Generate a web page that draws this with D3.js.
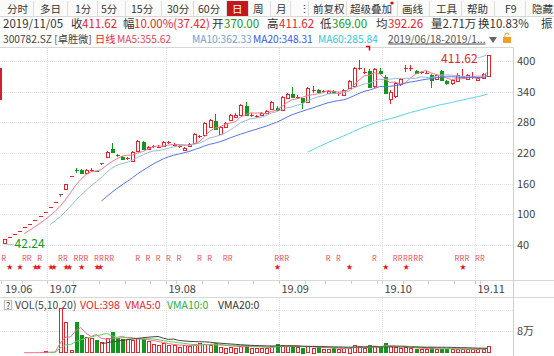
<!DOCTYPE html>
<html>
<head>
<meta charset="utf-8">
<script src="https://cdn.jsdelivr.net/npm/d3@7"></script>
<style>
  body { margin: 0; background: #fff; overflow: hidden; }
  svg { display: block; font-family: "Noto Sans CJK SC", "Noto Sans", sans-serif; }
</style>
</head>
<body>
<svg id="chart" width="554" height="356"></svg>
<script>
// trading days, one list per month
const months = ["2019-06", "2019-07", "2019-08", "2019-09", "2019-10", "2019-11"];
const monthLabels = ["19.06", "19.07", "19.08", "19.09", "19.10", "19.11"];
const monthDays = [
  [18, 19, 20, 21, 24, 25, 26, 27, 28],
  [1, 2, 3, 4, 5, 8, 9, 10, 11, 12, 15, 16, 17, 18, 19, 22, 23, 24, 25, 26, 29, 30, 31],
  [1, 2, 5, 6, 7, 8, 9, 12, 13, 14, 15, 16, 19, 20, 21, 22, 23, 26, 27, 28, 29, 30],
  [2, 3, 4, 5, 6, 9, 10, 11, 12, 16, 17, 18, 19, 20, 23, 24, 25, 26, 27, 30],
  [8, 9, 10, 11, 14, 15, 16, 17, 18, 21, 22, 23, 24, 25, 28, 29, 30, 31],
  [1, 4, 5]
];

// daily prices (forward adjusted)
const open = [42.35, 56, 62, 68, 74.5, 81.5, 89, 97, 105, 114, 124, 140, 150, 175, 187, 187, 182, 186, 184, 201,
  213, 228, 217, 213, 210, 205, 224, 242, 228, 232, 231, 234, 240, 235, 232, 226, 233, 240, 252, 256,
  271, 282, 258, 271, 285, 292, 294, 311, 294, 291, 295, 298, 307, 309, 304, 328, 335, 329, 327, 320,
  342, 343, 340, 338, 342, 336, 333, 347, 350, 385, 378, 381, 350, 381, 369, 327, 330, 355, 386, 386,
  381, 377, 377, 373, 364, 381, 360, 356, 362, 370, 364, 366, 364, 366, 370];
const high = [50.82, 56, 62, 68, 74.5, 81.5, 89, 97, 105, 114, 124, 140, 160, 175, 191, 188, 188, 190, 185, 201,
  223, 240, 219, 214, 213, 224, 246, 243, 233, 236, 235, 243, 244, 239, 235, 231, 239, 259, 256, 281,
  287, 296, 273, 280, 296, 298, 316, 320, 298, 295, 300, 304, 322, 311, 332, 337, 350, 333, 328, 349,
  352, 345, 344, 343, 344, 340, 345, 362, 388, 401, 386, 384, 386, 386, 372, 343, 358, 366, 393, 392,
  383, 380, 380, 375, 374, 383, 362, 364, 376, 384, 375, 378, 369, 376, 411.62];
const low = [42.24, 56, 62, 68, 74.5, 81.5, 89, 97, 105, 114, 124, 133, 148, 175, 180, 179, 180, 183, 182, 197,
  211, 220, 212, 207, 207, 203, 222, 227, 226, 229, 229, 232, 238, 233, 229, 224, 231, 238, 249, 254,
  268, 265, 256, 269, 283, 290, 292, 292, 291, 288, 293, 296, 305, 303, 302, 326, 328, 326, 307, 318,
  338, 337, 337, 336, 335, 332, 331, 345, 348, 382, 375, 348, 348, 376, 335, 316, 328, 352, 378, 380,
  375, 374, 375, 347, 362, 362, 354, 354, 360, 366, 362, 364, 362, 364, 369];
const close = [50.82, 56, 62, 68, 74.5, 81.5, 89, 97, 105, 114, 124, 140, 159, 175, 186, 181, 187, 187, 183, 201,
  222, 222, 215, 209, 210.5, 222, 244, 229, 231, 233, 232, 241, 241, 236, 233, 229, 237, 258, 253, 279,
  285, 267, 271, 278, 294, 295, 314, 294, 295, 292, 298, 302, 320, 305, 330, 335, 330, 330, 320, 347,
  343, 339, 341, 341, 338, 337, 343, 360, 386, 386, 379, 350, 384, 378, 337, 340, 356, 364, 387, 387,
  377, 378, 377.5, 364, 372, 364, 356, 362, 373, 371, 372, 368, 367, 374.2, 411.62];
// volume, 万 shares
const volume = [0.25, 0.1, 0.1, 0.1, 0.12, 0.12, 0.15, 0.2, 0.6, 0.3, 0.5, 16.2, 11.2, 1.0, 11.3, 6.5, 5.8, 5.3, 4.6, 4.0,
  5.5, 7.6, 5.3, 5.1, 5.0, 4.7, 5.5, 5.0, 4.2, 3.4, 3.0, 3.5, 3.0, 2.8, 2.1, 2.8, 2.6, 3.2, 3.5, 3.4,
  2.8, 3.6, 2.3, 2.0, 2.3, 2.0, 2.6, 2.9, 2.0, 1.9, 1.8, 2.0, 2.4, 3.3, 2.8, 2.5, 2.6, 2.2, 2.0, 2.4,
  2.0, 2.1, 1.6, 1.5, 1.8, 1.6, 1.7, 2.0, 2.9, 2.5, 1.8, 2.9, 2.5, 2.1, 3.6, 2.6, 2.3, 1.9, 2.2, 1.7,
  1.5, 1.4, 1.3, 1.9, 1.5, 1.6, 1.4, 1.3, 1.6, 1.5, 1.4, 1.3, 1.5, 1.6, 2.71];

const priceTicks = [40, 100, 160, 220, 280, 340, 400];
const volTicks = [8];
const rDays = [0, 4, 5, 7, 11, 12, 14, 15, 16, 18, 19, 20, 21, 26, 28, 30, 32, 34, 38, 40, 43, 44,
  53, 54, 55, 63, 65, 72, 76, 77, 78, 79, 80, 81, 88, 89, 90, 92, 93];
const starDays = [1, 3, 6, 7, 9, 10, 12, 13, 15, 18, 19, 53, 67, 74, 78, 89];
const noteDays = [71];

const toolbarItems = [["分时", 7], ["多日", 40], ["1分", 75], ["5分", 101], ["15分", 131], ["30分", 167],
  ["60分", 198], ["日", 232], ["周", 253], ["月", 276], ["⋮", 299], ["前复权", 313], ["超级叠加", 350],
  ["画线", 402], ["工具", 436], ["帮助", 467], ["F9", 505], ["隐藏", 532]];
const toolbarSeps = [33, 67, 97, 125, 161, 193, 226, 248, 270, 290, 308, 346, 397, 429, 461, 494, 525];

const RED = "#e8232b", GREEN = "#13961d";
const svg = d3.select("#chart");

const parse = d3.timeParse("%Y-%m-%d");
const dates = months.flatMap((m, k) => monthDays[k].map(d => parse(m + "-" + String(d).padStart(2, "0"))));
const n = dates.length;

const x = d3.scaleBand().domain(d3.range(n)).range([1, 1 + n * 5.15]);
const cx = i => x(i) + x.bandwidth() / 2;
const y = d3.scaleLinear().domain([40, 400]).range([245, 61]);
const vy = d3.scaleLinear().domain([0, 8]).range([353, 331]);

const plotRight = 513;

// ---------- toolbar ----------
svg.append("rect").attr("x", 0).attr("y", 0).attr("width", 554).attr("height", 16).attr("fill", "#fbfbfb");
svg.append("line").attr("x1", 0).attr("x2", 554).attr("y1", 16.5).attr("y2", 16.5).attr("stroke", "#d9d9d9");
svg.append("rect").attr("x", 226).attr("y", 1).attr("width", 22).attr("height", 15).attr("fill", "#c4161c");
svg.selectAll(".sep").data(toolbarSeps).enter().append("line")
  .attr("x1", d => d + 0.5).attr("x2", d => d + 0.5).attr("y1", 1).attr("y2", 16)
  .attr("stroke", "#dcdcdc");
svg.selectAll(".tb").data(toolbarItems).enter().append("text")
  .attr("x", d => d[1]).attr("y", 12.5)
  .attr("font-size", 10.5)
  .attr("fill", d => d[0] === "日" ? "#fff" : "#333")
  .text(d => d[0]);
svg.append("circle").attr("cx", 392).attr("cy", 3).attr("r", 1.6).attr("fill", "#e00");

// ---------- info rows ----------
function txt(parts, yy, size) {
  parts.forEach(p => {
    svg.append("text").attr("x", p[1]).attr("y", yy).attr("font-size", size)
      .attr("fill", p[2]).text(p[0]);
  });
}
txt([["2019/11/05", 3, "#333"], ["收", 71, "#333"], ["411.62", 82, RED], ["幅", 123, "#333"],
  ["10.00%(37.42)", 134, RED], ["开", 212, "#333"], ["370.00", 224, GREEN], ["高", 267, "#333"],
  ["411.62", 279, RED], ["低", 320, "#333"], ["369.00", 332, GREEN], ["均", 376, "#333"],
  ["392.26", 388, RED], ["量2.71万", 431, "#333"], ["换10.83%", 478, "#333"], ["振", 541, "#333"]], 28, 11.5);
txt([["300782.SZ [卓胜微]", 3, "#444"], ["日线", 95, RED], ["MA5:355.62", 117, "#e8455a"],
  ["MA10:362.33", 192, "#6f9fd6"], ["MA20:348.31", 253, "#3658ee"], ["MA60:285.84", 318, "#30c6dc"]], 42.5, 10.2);
svg.append("text").attr("x", 388).attr("y", 42.5).attr("font-size", 10.2).attr("fill", "#555")
  .attr("text-decoration", "underline").text("2019/06/18-2019/1...");
svg.append("path").attr("d", "M489,37 h8 l-4,6 z").attr("fill", "#666");
svg.append("rect").attr("x", 503).attr("y", 37).attr("width", 8).attr("height", 6).attr("fill", "#f0a020");
svg.append("path").attr("d", "M505,37 v-2 a2,2 0 0 1 4,0").attr("fill", "none").attr("stroke", "#f0a020");

// ---------- frame and grid ----------
const frame = [[0, 47.5, plotRight, 47.5], [0, 280.5, 554, 280.5], [0, 297.5, 554, 297.5]];
frame.forEach(l => svg.append("line").attr("x1", l[0]).attr("y1", l[1]).attr("x2", l[2]).attr("y2", l[3])
  .attr("stroke", "#d8d8d8"));
svg.append("line").attr("x1", plotRight + 0.5).attr("x2", plotRight + 0.5).attr("y1", 47).attr("y2", 356)
  .attr("stroke", "#d0d0d0");

svg.selectAll(".hgrid").data(priceTicks).enter().append("line")
  .attr("x1", 0).attr("x2", plotRight).attr("y1", d => Math.round(y(d)) + 0.5).attr("y2", d => Math.round(y(d)) + 0.5)
  .attr("stroke", "#e3e3e3").attr("stroke-dasharray", "1,1");
svg.selectAll(".ylab").data(priceTicks).enter().append("text")
  .attr("x", 517).attr("y", d => y(d) + 4).attr("font-size", 11).attr("fill", "#444").text(d => d);

const monthStart = months.map((m, k) => d3.sum(monthDays.slice(0, k), a => a.length));
const monthX = monthStart.map(i => Math.round(x(i)) + 0.5);
monthX.slice(1).forEach(mx => {
  svg.append("line").attr("x1", mx).attr("x2", mx).attr("y1", 48).attr("y2", 280)
    .attr("stroke", "#e3e3e3").attr("stroke-dasharray", "1,1");
  svg.append("line").attr("x1", mx).attr("x2", mx).attr("y1", 298).attr("y2", 356)
    .attr("stroke", "#e3e3e3").attr("stroke-dasharray", "1,1");
});

// date axis: month labels and monday ticks
svg.selectAll(".mlab").data(monthLabels).enter().append("text")
  .attr("x", (d, k) => k === 0 ? 5 : monthX[k] + 2).attr("y", 293).attr("font-size", 11).attr("fill", "#444")
  .text(d => d);
dates.forEach((d, i) => {
  if (d.getDay() === 1 || monthStart.includes(i)) {
    const tx = Math.round(x(i)) + 0.5;
    svg.append("line").attr("x1", tx).attr("x2", tx).attr("y1", 281).attr("y2", 284).attr("stroke", "#ccc");
  }
});

// volume grid
[310, 331].forEach(v => svg.append("line").attr("x1", 0).attr("x2", plotRight).attr("y1", v + 0.5).attr("y2", v + 0.5)
  .attr("stroke", "#e3e3e3").attr("stroke-dasharray", "1,1"));
svg.selectAll(".vlab").data(volTicks).enter().append("text")
  .attr("x", 517).attr("y", d => vy(d) + 4).attr("font-size", 11).attr("fill", "#444").text(d => d + "万");

// ---------- candles ----------
const colorOf = i => {
  if (open[i] === close[i] && high[i] !== low[i] && high[i] === close[i]) return "#666";
  return close[i] >= open[i] ? RED : GREEN;
};
const bw = 3;
const candles = svg.append("g").attr("shape-rendering", "crispEdges");
d3.range(n).forEach(i => {
  const c = colorOf(i);
  const px = Math.round(cx(i));
  const top = y(Math.max(open[i], close[i])), bot = y(Math.min(open[i], close[i]));
  candles.append("line").attr("x1", px + 0.5).attr("x2", px + 0.5).attr("y1", y(high[i])).attr("y2", y(low[i]))
    .attr("stroke", c);
  if (bot - top < 1.5) {
    candles.append("line").attr("x1", px - 1.5).attr("x2", px + 2.5)
      .attr("y1", Math.round(top) + 0.5).attr("y2", Math.round(top) + 0.5).attr("stroke", c);
  } else {
    const up = close[i] >= open[i];
    candles.append("rect").attr("x", px - 1.5 + 0.5).attr("y", Math.round(top) + 0.5)
      .attr("width", bw).attr("height", Math.round(bot - top))
      .attr("fill", up ? "#fff" : c).attr("stroke", c);
  }
});

// moving averages
const ma = (arr, k) => arr.map((v, i) => i < k - 1 ? null : d3.mean(arr.slice(i - k + 1, i + 1)));
const lineP = d3.line().defined(d => d != null).x((d, i) => cx(i)).y(d => y(d));
[[5, "#f07888"], [10, "#9bbad8"], [20, "#5574ee"], [60, "#5ad2e8"]].forEach(([k, col]) => {
  svg.append("path").attr("d", lineP(ma(close, k))).attr("fill", "none").attr("stroke", col).attr("stroke-width", 1);
});

// high / low markers
const hi = d3.maxIndex(high), lo = d3.minIndex(low);
svg.append("line").attr("x1", cx(hi) - 10).attr("y1", y(high[hi]) + 3).attr("x2", cx(hi) - 1).attr("y2", y(high[hi]))
  .attr("stroke", "#9cc4e4");
svg.append("text").attr("x", cx(hi) - 10).attr("y", y(high[hi]) + 8).attr("text-anchor", "end")
  .attr("font-size", 12).attr("fill", RED).text(high[hi].toFixed(2));
svg.append("line").attr("x1", cx(lo) + 2).attr("y1", y(low[lo]) + 0.5).attr("x2", cx(lo) + 10).attr("y2", y(low[lo]) + 0.5)
  .attr("stroke", "#9cc4e4");
svg.append("text").attr("x", cx(lo) + 11).attr("y", y(low[lo]) + 4).attr("font-size", 12).attr("fill", GREEN)
  .text(low[lo].toFixed(2));

// note flag
noteDays.forEach(i => svg.append("path").attr("d", `M${Math.round(cx(i)) - 3},46.5 h3.5 v4`)
  .attr("fill", "none").attr("stroke", "#e00").attr("stroke-width", 1.5));
svg.append("rect").attr("x", 0).attr("y", 68).attr("width", 2).attr("height", 32).attr("fill", "#d0202a");

// signal rows: consecutive days are set as one run of glyphs
function runs(days) {
  const out = [];
  days.forEach(d => {
    const last = out[out.length - 1];
    if (last && d === last[last.length - 1] + 1) last.push(d); else out.push([d]);
  });
  return out;
}
function signalRow(days, glyph, yy, size, color) {
  svg.selectAll(null).data(runs(days)).enter().append("text")
    .attr("x", r => x(r[0]) + 0.3).attr("y", yy)
    .attr("font-size", size).attr("fill", color)
    .attr("textLength", r => r.length * x.step() - 0.6).attr("lengthAdjust", "spacing")
    .text(r => glyph.repeat(r.length));
}
signalRow(rDays, "R", 260.5, 7.5, "#f04a50");
signalRow(starDays, "★", 269, 6.5, "#e8141c");

// ---------- volume ----------
svg.append("rect").attr("x", 4.5).attr("y", 300.5).attr("width", 7).attr("height", 9).attr("fill", "none").attr("stroke", "#bbb");
svg.append("text").attr("x", 6).attr("y", 308.5).attr("font-size", 9).attr("fill", "#333").text("?");
txt([["VOL(5,10,20)", 15, "#444"], ["VOL:398", 80, RED], ["VMA5:0", 125, RED],
  ["VMA10:0", 167, "#2ab040"], ["VMA20:0", 218, "#333"]], 309, 10.5);

const vols = svg.append("g").attr("shape-rendering", "crispEdges");
d3.range(n).forEach(i => {
  const c = close[i] >= open[i] ? RED : GREEN;
  const up = close[i] >= open[i];
  const px = Math.round(cx(i));
  const h = Math.max(0.5, vy(0) - vy(volume[i]));
  vols.append("rect").attr("x", px - 1).attr("y", Math.round(vy(volume[i])) + 0.5)
    .attr("width", bw).attr("height", Math.max(0, Math.round(h) - 1))
    .attr("fill", up ? "#fff" : c).attr("stroke", c);
});
const lineV = d3.line().defined(d => d != null).x((d, i) => cx(i)).y(d => vy(d));
[[5, "#f07080"], [10, "#60cc60"], [20, "#444"]].forEach(([k, col]) => {
  svg.append("path").attr("d", lineV(ma(volume, k))).attr("fill", "none").attr("stroke", col).attr("stroke-width", 1);
});
</script>
</body>
</html>
